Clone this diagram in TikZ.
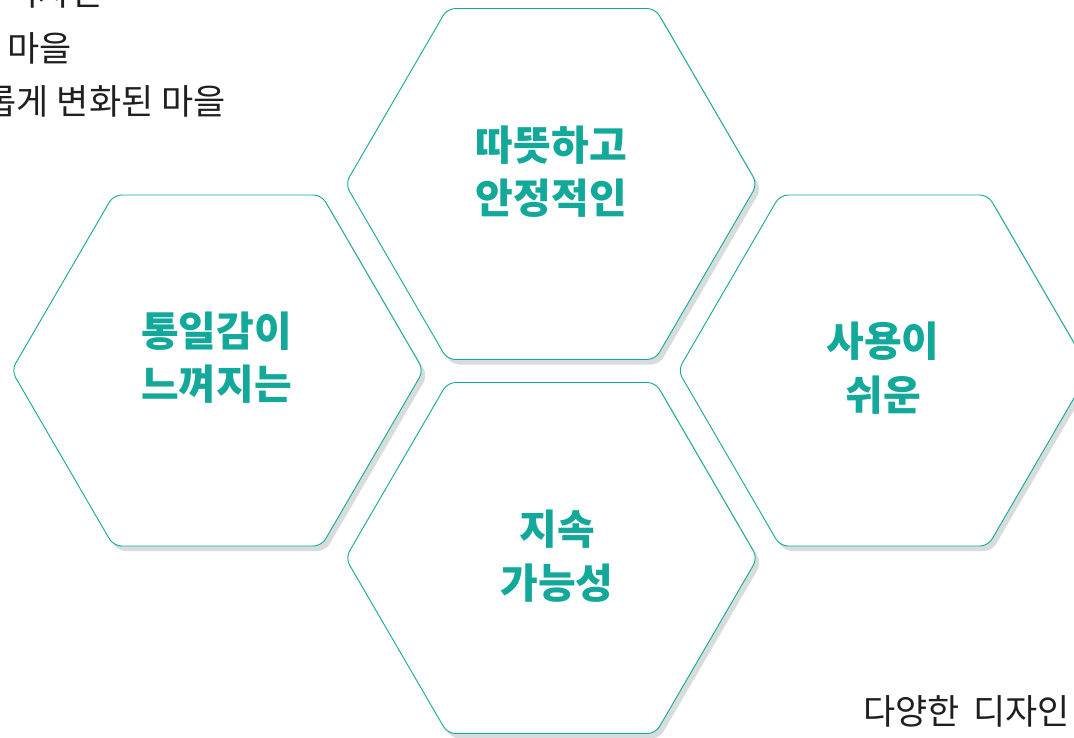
\documentclass[tikz,border=0pt]{standalone}
\usepackage{fontspec}
\setmainfont{Noto Sans CJK KR}
\usepackage{tikz}
\definecolor{hexteal}{RGB}{18,168,154}
\definecolor{hexshade}{RGB}{214,221,219}

\begin{document}
\begin{tikzpicture}[x=1pt,y=-1pt,
hexline/.style={draw=hexteal,line width=0.9pt,fill=white,rounded corners=8pt},
hexshadow/.style={fill=hexshade,rounded corners=8pt},
celltext/.style={text=hexteal,align=center,inner sep=0pt,font=\bfseries\fontsize{41}{53.5}\selectfont},
plaintext/.style={text=black!88,inner sep=0pt,font=\fontsize{35}{40}\selectfont}]
\useasboundingbox[fill=white] (0,0) rectangle (1074,737);

%centres of the four cells
\def\cells{1/551.3/184,2/217.5/370.5,3/884/370.5,4/551.5/558}
\foreach \x/\cx/\cy in \cells{
	\coordinate(c\x) at (\cx,\cy);
	%shadow first, then the cell on top of it
	\fill[hexshadow,shift={(\cx+4,\cy+5)}] (-206,0) -- (-104,-175.5) -- (104,-175.5) -- (206,0) -- (104,175.5) -- (-104,175.5) -- cycle;
	\draw[hexline,shift={(\cx,\cy)}] (-206,0) -- (-104,-175.5) -- (104,-175.5) -- (206,0) -- (104,175.5) -- (-104,175.5) -- cycle;
}

%texts of the cells
\node[celltext](t1) at ([yshift=12.5pt]c1) {따뜻하고\\안정적인};
\node[celltext](t2) at ([xshift=-1pt,yshift=13pt]c2) {통일감이\\느껴지는};
\node[celltext](t3) at ([xshift=-1pt,yshift=2.5pt]c3) {사용이\\쉬운};
\node[celltext](t4) at ([xshift=5.5pt,yshift=2pt]c4) {지속\\가능성};

%loose lines round the cells
\node[plaintext,anchor=east](n1) at (103,-8) {디자인};
\node[plaintext,anchor=east](n2) at (72,48) {마을};
\node[plaintext,anchor=east](n3) at (226,101) {롭게 변화된 마을};
\node[plaintext,anchor=east](n4) at (1070,711) {다양한\hspace{0.15em} 디자인};
\end{tikzpicture}
\end{document}
